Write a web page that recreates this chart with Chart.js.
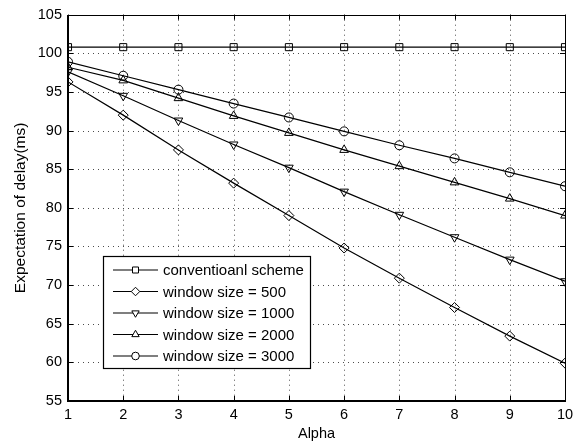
<!DOCTYPE html>
<html>
<head>
<meta charset="utf-8">
<script src="https://cdn.jsdelivr.net/npm/chart.js@4.4.1/dist/chart.umd.min.js"></script>
<style>
html,body{margin:0;padding:0;background:#fff;}
#wrap{width:585px;height:447px;}
</style>
</head>
<body>
<div id="wrap"><canvas id="c" width="585" height="447"></canvas></div>
<script>
const alpha = [1,2,3,4,5,6,7,8,9,10];
const seriesNames = ['conventioanl scheme','window size = 500','window size = 1000','window size = 2000','window size = 3000'];
const conventional = [100.8,100.8,100.8,100.8,100.8,100.8,100.8,100.8,100.8,100.8];
const win500  = [96.3,92.0,87.5,83.2,79.0,74.8,70.9,67.1,63.4,59.9];
const win1000 = [97.6,94.5,91.3,88.2,85.2,82.1,79.1,76.2,73.3,70.5];
const win2000 = [98.2,96.5,94.2,91.9,89.7,87.5,85.4,83.3,81.2,79.0];
const win3000 = [98.9,97.1,95.3,93.5,91.7,89.9,88.1,86.4,84.6,82.8];
const xTicks = [1,2,3,4,5,6,7,8,9,10];
const yTicks = [55,60,65,70,75,80,85,90,95,100,105];

const allSeries = [conventional, win500, win1000, win2000, win3000];
const markers = [
  {style:'rect', rot:0, r:5},
  {style:'rectRot', rot:0, r:5},
  {style:'triangle', rot:180, r:5},
  {style:'triangle', rot:0, r:5},
  {style:'circle', rot:0, r:4.5}
];
const FONT = '"Liberation Sans", Arial, Helvetica, sans-serif';

const datasets = allSeries.map((vals, i) => ({
  label: seriesNames[i],
  data: vals.map((v, k) => ({x: alpha[k], y: v})),
  borderColor: '#000',
  borderWidth: 1.2,
  backgroundColor: 'rgba(0,0,0,0)',
  pointStyle: markers[i].style,
  pointRotation: markers[i].rot,
  pointRadius: markers[i].r,
  pointBorderWidth: 1,
  pointBorderColor: '#000',
  pointBackgroundColor: 'rgba(0,0,0,0)',
  tension: 0,
  fill: false
}));

const gridPlugin = {
  id: 'dotgrid',
  beforeDatasetsDraw(chart) {
    const {ctx, chartArea: a, scales} = chart;
    ctx.save();
    ctx.strokeStyle = 'rgba(0,0,0,0.7)';
    ctx.lineWidth = 1;
    ctx.setLineDash([1, 4]);
    ctx.beginPath();
    xTicks.forEach(t => {
      const x = Math.round(scales.x.getPixelForValue(t)) + 0.5;
      ctx.moveTo(x, a.top); ctx.lineTo(x, a.bottom);
    });
    yTicks.forEach(t => {
      const y = Math.round(scales.y.getPixelForValue(t)) + 0.5;
      ctx.moveTo(a.left, y); ctx.lineTo(a.right, y);
    });
    ctx.stroke();
    ctx.restore();
  }
};

const framePlugin = {
  id: 'frame',
  afterDraw(chart) {
    const {ctx, chartArea: a, scales} = chart;
    ctx.save();
    ctx.strokeStyle = '#000';
    ctx.lineWidth = 1;
    const tl = 5;
    ctx.beginPath();
    xTicks.forEach(t => {
      const x = Math.round(scales.x.getPixelForValue(t)) + 0.5;
      ctx.moveTo(x, a.bottom); ctx.lineTo(x, a.bottom - tl);
      ctx.moveTo(x, a.top); ctx.lineTo(x, a.top + tl);
    });
    yTicks.forEach(t => {
      const y = Math.round(scales.y.getPixelForValue(t)) + 0.5;
      ctx.moveTo(a.left, y); ctx.lineTo(a.left + tl, y);
      ctx.moveTo(a.right, y); ctx.lineTo(a.right - tl, y);
    });
    ctx.stroke();
    ctx.strokeRect(Math.round(a.left)+0.5, Math.round(a.top)+0.5, Math.round(a.right-a.left), Math.round(a.bottom-a.top));
    ctx.lineWidth = 2;
    ctx.beginPath();
    ctx.moveTo(Math.round(a.left), Math.round(a.top));
    ctx.lineTo(Math.round(a.left), Math.round(a.bottom));
    ctx.lineTo(Math.round(a.right), Math.round(a.bottom));
    ctx.stroke();

    // legend
    const lx = 103, ly = 256, lw = 207, lh = 112;
    ctx.fillStyle = '#fff';
    ctx.fillRect(lx, ly, lw, lh);
    ctx.lineWidth = 1.2;
    ctx.strokeStyle = '#000';
    ctx.strokeRect(lx + 0.5, ly + 0.5, lw, lh);
    ctx.font = '15px ' + FONT;
    ctx.textBaseline = 'middle';
    ctx.textAlign = 'left';
    const rowY = [270, 291.5, 313, 334.5, 356];
    chart.data.datasets.forEach((ds, i) => {
      const y = rowY[i];
      ctx.strokeStyle = '#000';
      ctx.lineWidth = 1.2;
      ctx.beginPath();
      ctx.moveTo(113, y); ctx.lineTo(158, y);
      ctx.stroke();
      ctx.lineWidth = 1;
      ctx.fillStyle = '#fff';
      Chart.helpers.drawPoint(ctx, {
        pointStyle: ds.pointStyle,
        rotation: ds.pointRotation,
        radius: ds.pointRadius * 0.85,
        borderWidth: 1
      }, 135.5, y);
      ctx.fillStyle = '#000';
      ctx.fillText(ds.label, 163, y + 1);
    });
    ctx.restore();
  }
};

new Chart(document.getElementById('c'), {
  type: 'line',
  data: {datasets},
  options: {
    responsive: false,
    animation: false,
    devicePixelRatio: 1,
    layout: {padding: {left: 0, right: 20, top: 8, bottom: 0}},
    plugins: {legend: {display: false}, tooltip: {enabled: false}},
    elements: {point: {hitRadius: 0}},
    scales: {
      x: {
        type: 'linear',
        min: 1, max: 10,
        afterBuildTicks(s) { s.ticks = xTicks.map(v => ({value: v})); },
        afterFit(s) { s.height = 46; },
        ticks: {color: '#000', font: {family: FONT, size: 14.5}, padding: 5},
        grid: {display: false, drawTicks: false},
        border: {display: false},
        title: {display: true, text: 'Alpha', color: '#000', font: {family: FONT, size: 14.5}, padding: {top: 0, bottom: 4.3}}
      },
      y: {
        type: 'linear',
        min: 55, max: 105,
        afterBuildTicks(s) { s.ticks = yTicks.map(v => ({value: v})); },
        afterFit(s) { s.width = 68; },
        ticks: {color: '#000', font: {family: FONT, size: 14.5}, padding: 6},
        grid: {display: false, drawTicks: false},
        border: {display: false},
        title: {display: true, text: 'Expectation of delay(ms)', color: '#000', font: {family: FONT, size: 15.5}, padding: {top: 11.7, bottom: 0}}
      }
    }
  },
  plugins: [gridPlugin, framePlugin]
});
</script>
</body>
</html>
